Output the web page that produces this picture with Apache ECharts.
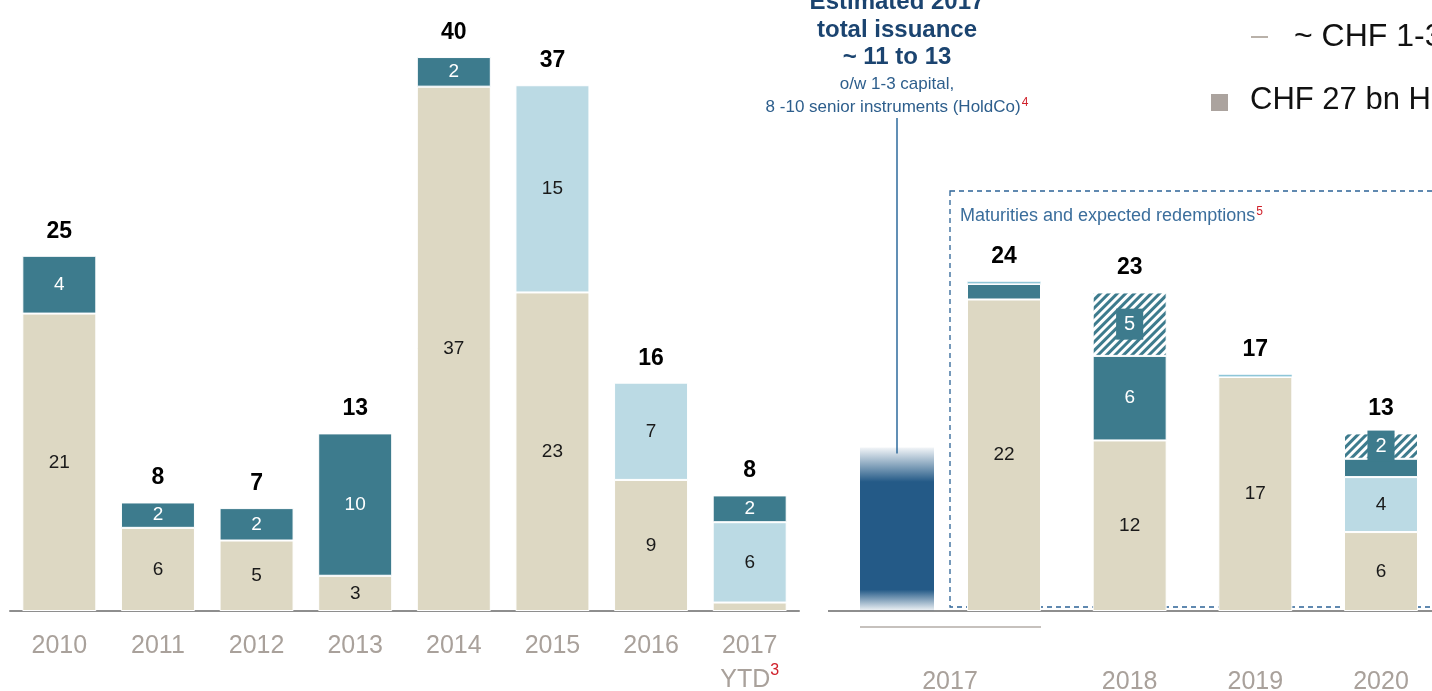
<!DOCTYPE html>
<html>
<head>
<meta charset="utf-8">
<script src="https://cdn.jsdelivr.net/npm/echarts@6/dist/echarts.min.js"></script>
<style>
html,body{margin:0;padding:0;background:#fff;}
#c{width:1432px;height:691px;}
</style>
</head>
<body>
<div id="c"></div>
<script>
// ---------- DATA ----------
const leftCats = ['2010','2011','2012','2013','2014','2015','2016','2017 YTD'];
const leftBeige = [21.1, 5.9, 5.0, 2.5, 37.2, 22.6, 9.3, 0.6];
const leftLight = [null, null, null, null, null, 14.7, 6.9, 5.7];
const leftTeal  = [4.1, 1.8, 2.3, 10.1, 2.1, null, null, 1.9];
const leftBeigeLbl = ['21','6','5','3','37','23','9',''];
const leftLightLbl = ['','','','','','15','7','6'];
const leftTealLbl  = ['4','2','2','10','2','','','2'];
const leftTotals   = ['25','8','7','13','40','37','16','8'];

const estCats = ['Estimated 2017'];
const estValue = [11.6];

const rightCats = ['2017','2018','2019','2020'];
const rightBeige    = [22.1, 12.1, 16.6, 5.6];
const rightLightLow = [null, null, null, 3.9];
const rightTeal     = [1.1, 6.0, null, 1.3];
const rightLightTop = [0.2, null, 0.2, null];
const rightHatched  = [null, 4.5, null, 1.8];
const rightBeigeLbl = ['22','12','17','6'];
const rightLightLbl = ['','','','4'];
const rightTealLbl  = ['','6','',''];
const rightHatchLbl = ['','5','','2'];
const rightTotals   = ['24','23','17','13'];

// ---------- STYLE ----------
const FONT = "'Liberation Sans', Arial, sans-serif";
const BEIGE = '#DDD8C3', TEAL = '#3D7B8D', LIGHT = '#BBDAE4', LIGHTTOP = '#8EC6D8';
const AXISGRAY = '#A9A19B';
const Y_MAX = 42;

const chart = echarts.init(document.getElementById('c'), null, {renderer: 'canvas'});

function inside(lbls, color) {
  return {
    show: true, position: 'inside', color: color, fontFamily: FONT, fontSize: 19,
    formatter: p => lbls[p.dataIndex] || ''
  };
}
function seg(name, data, color, xi, stack, lbls, lblColor, extra) {
  return Object.assign({
    type: 'bar', name: name, data: data, stack: stack, clip: false,
    xAxisIndex: xi, yAxisIndex: xi, barWidth: 74,
    itemStyle: {color: color, borderColor: '#fff', borderWidth: 1},
    label: lbls ? inside(lbls, lblColor) : {show: false},
    emphasis: {disabled: true}, silent: true
  }, extra || {});
}
function totals(data, lbls, xi, stack) {
  return {
    type: 'bar', data: data.map(() => 0), stack: stack, xAxisIndex: xi, yAxisIndex: xi,
    barWidth: 74, clip: false, itemStyle: {color: 'transparent'}, silent: true,
    label: {show: true, position: 'top', distance: 13, color: '#000', fontWeight: 'bold',
            fontSize: 23, fontFamily: FONT, formatter: p => lbls[p.dataIndex]}
  };
}
const yAx = i => ({type: 'value', gridIndex: i, min: 0, max: Y_MAX, show: false});

const option = {
  backgroundColor: '#fff',
  animation: false,
  grid: [
    {left: 10, width: 789, top: 19, bottom: 80, containLabel: false, outerBoundsMode: 'none'},
    {left: 1004, width: 377, top: 19, bottom: 80, containLabel: false, outerBoundsMode: 'none'},
    {left: 828, width: 138, top: 19, bottom: 80, containLabel: false, outerBoundsMode: 'none'}
  ],
  xAxis: [
    {type: 'category', gridIndex: 0, data: leftCats,
     axisLine: {lineStyle: {color: '#8E8E8E', width: 2}}, axisTick: {show: false},
     axisLabel: {interval: 0, margin: 18, color: AXISGRAY, fontSize: 25, fontFamily: FONT, lineHeight: 34,
       formatter: v => v === '2017 YTD' ? '2017\n{y|YTD}{s|3}' : v,
       rich: {y: {color: AXISGRAY, fontSize: 25, fontFamily: FONT, lineHeight: 34},
              s: {color: '#D0202A', fontSize: 16, fontFamily: FONT, verticalAlign: 'top', lineHeight: 34, padding: [0,0,10,0]}}}},
    {type: 'category', gridIndex: 1, data: rightCats, boundaryGap: false,
     axisLine: {show: false}, axisTick: {show: false},
     axisLabel: {interval: 0, margin: 59, color: AXISGRAY, fontSize: 25, fontFamily: FONT,
       formatter: (v, i) => i === 0 ? '{sh|' + v + '}' : v,
       rich: {sh: {color: AXISGRAY, fontSize: 25, fontFamily: FONT, padding: [0, 108, 0, 0]}}}},
    {type: 'category', gridIndex: 2, data: estCats,
     axisLine: {show: false}, axisTick: {show: false}, axisLabel: {show: false}}
  ],
  yAxis: [yAx(0), yAx(1), yAx(2)],
  series: [
    seg('beige', leftBeige, BEIGE, 0, 'L', leftBeigeLbl, '#1a1a1a'),
    seg('light', leftLight, LIGHT, 0, 'L', leftLightLbl, '#1a1a1a'),
    seg('teal', leftTeal, TEAL, 0, 'L', leftTealLbl, '#fff'),
    totals(leftCats, leftTotals, 0, 'L'),

    seg('rbeige', rightBeige, BEIGE, 1, 'R', rightBeigeLbl, '#1a1a1a'),
    seg('rlight', rightLightLow, LIGHT, 1, 'R', rightLightLbl, '#1a1a1a'),
    seg('rteal', rightTeal, TEAL, 1, 'R', rightTealLbl, '#fff'),
    seg('rlighttop', rightLightTop, LIGHTTOP, 1, 'R', null, null, {itemStyle: {color: LIGHTTOP, borderColor: '#fff', borderWidth: 0.6}}),
    seg('rhatch', rightHatched, '#fff', 1, 'R', null, null, {
      itemStyle: {color: '#fff', borderColor: '#fff', borderWidth: 1,
        decal: {symbol: 'rect', symbolSize: 1, color: TEAL, dashArrayX: [1, 0], dashArrayY: [2.6, 2.6], rotation: -Math.PI / 4}},
      label: {show: true, position: 'inside', color: '#fff', fontFamily: FONT, fontSize: 20,
        backgroundColor: TEAL, padding: [6, 8, 5, 8],
        formatter: p => rightHatchLbl[p.dataIndex] || ''}
    }),
    totals(rightCats, rightTotals, 1, 'R'),

    {type: 'bar', xAxisIndex: 2, yAxisIndex: 2, data: estValue, barWidth: 74, silent: true,
     itemStyle: {color: new echarts.graphic.LinearGradient(0, 0, 0, 1, [
       {offset: 0, color: 'rgba(36,90,135,0.06)'},
       {offset: 0.21, color: 'rgba(36,90,135,1)'},
       {offset: 0.87, color: 'rgba(36,90,135,1)'},
       {offset: 1, color: 'rgba(36,90,135,0.06)'}])}}
  ]
};
chart.setOption(option);

// ---------- ANNOTATIONS ----------
const estTop = chart.convertToPixel({gridIndex: 2}, [0, estValue[0]]);
const baseY = chart.convertToPixel({gridIndex: 1}, [0, 0])[1];
const boldStyle = {fill: '#1B4470', font: 'bold 24px ' + FONT, textAlign: 'center', textVerticalAlign: 'middle'};
const smallStyle = {fill: '#2D5E8C', font: '17px ' + FONT, textAlign: 'center', textVerticalAlign: 'middle'};
const ax = estTop[0];
chart.setOption({
  graphic: [
    {type: 'line', shape: {x1: 828, y1: baseY, x2: 1432, y2: baseY}, style: {stroke: '#8E8E8E', lineWidth: 2}, silent: true, z: 1},
    {type: 'line', shape: {x1: ax, y1: estTop[1] + 6, x2: ax, y2: 118}, style: {stroke: '#2D6A9C', lineWidth: 1.5}, silent: true},
    {type: 'text', x: ax, y: 2, style: Object.assign({text: 'Estimated 2017'}, boldStyle)},
    {type: 'text', x: ax, y: 30, style: Object.assign({text: 'total issuance'}, boldStyle)},
    {type: 'text', x: ax, y: 57, style: Object.assign({text: '~ 11 to 13'}, boldStyle)},
    {type: 'text', x: ax, y: 84, style: Object.assign({text: 'o/w 1-3 capital,'}, smallStyle)},
    {type: 'text', x: ax, y: 107, style: Object.assign({
      text: '{a|8 -10 senior instruments (HoldCo)}{r|4}',
      rich: {a: {fill: '#2D5E8C', font: '17px ' + FONT}, r: {fill: '#D0202A', font: '12px ' + FONT, verticalAlign: 'top', padding: [0,0,8,1]}}
    }, smallStyle)},
    // dashed box for maturities
    {type: 'rect', shape: {x: 950, y: 191, width: 500, height: baseY - 4 - 191},
     style: {fill: 'none', stroke: '#2C6396', lineWidth: 1.3, lineDash: [5, 4]}, silent: true, z: 0},
    {type: 'text', x: 960, y: 216, style: {
      text: '{a|Maturities and expected redemptions}{r|5}',
      rich: {a: {fill: '#3B6E9C', font: '18px ' + FONT}, r: {fill: '#D0202A', font: '12px ' + FONT, verticalAlign: 'top', padding: [0,0,9,1]}},
      textVerticalAlign: 'middle'}},
    // bracket under 2017
    {type: 'line', shape: {x1: 860, y1: baseY + 16, x2: 1041, y2: baseY + 16}, style: {stroke: '#B3ADA7', lineWidth: 1.5}, silent: true},
    // legend (cropped at the right edge)
    {type: 'line', shape: {x1: 1251, y1: 37, x2: 1268, y2: 37}, style: {stroke: '#B9B1A9', lineWidth: 2}, silent: true},
    {type: 'text', x: 1294, y: 37, style: {text: '~ CHF 1-3 bn', fill: '#111', font: '32px ' + FONT, textVerticalAlign: 'middle'}},
    {type: 'rect', shape: {x: 1211, y: 94, width: 17, height: 17}, style: {fill: '#ABA39E'}, silent: true},
    {type: 'text', x: 1250, y: 100, style: {text: 'CHF 27 bn HoldCo', fill: '#111', font: '31px ' + FONT, textVerticalAlign: 'middle'}}
  ]
});
</script>
</body>
</html>
